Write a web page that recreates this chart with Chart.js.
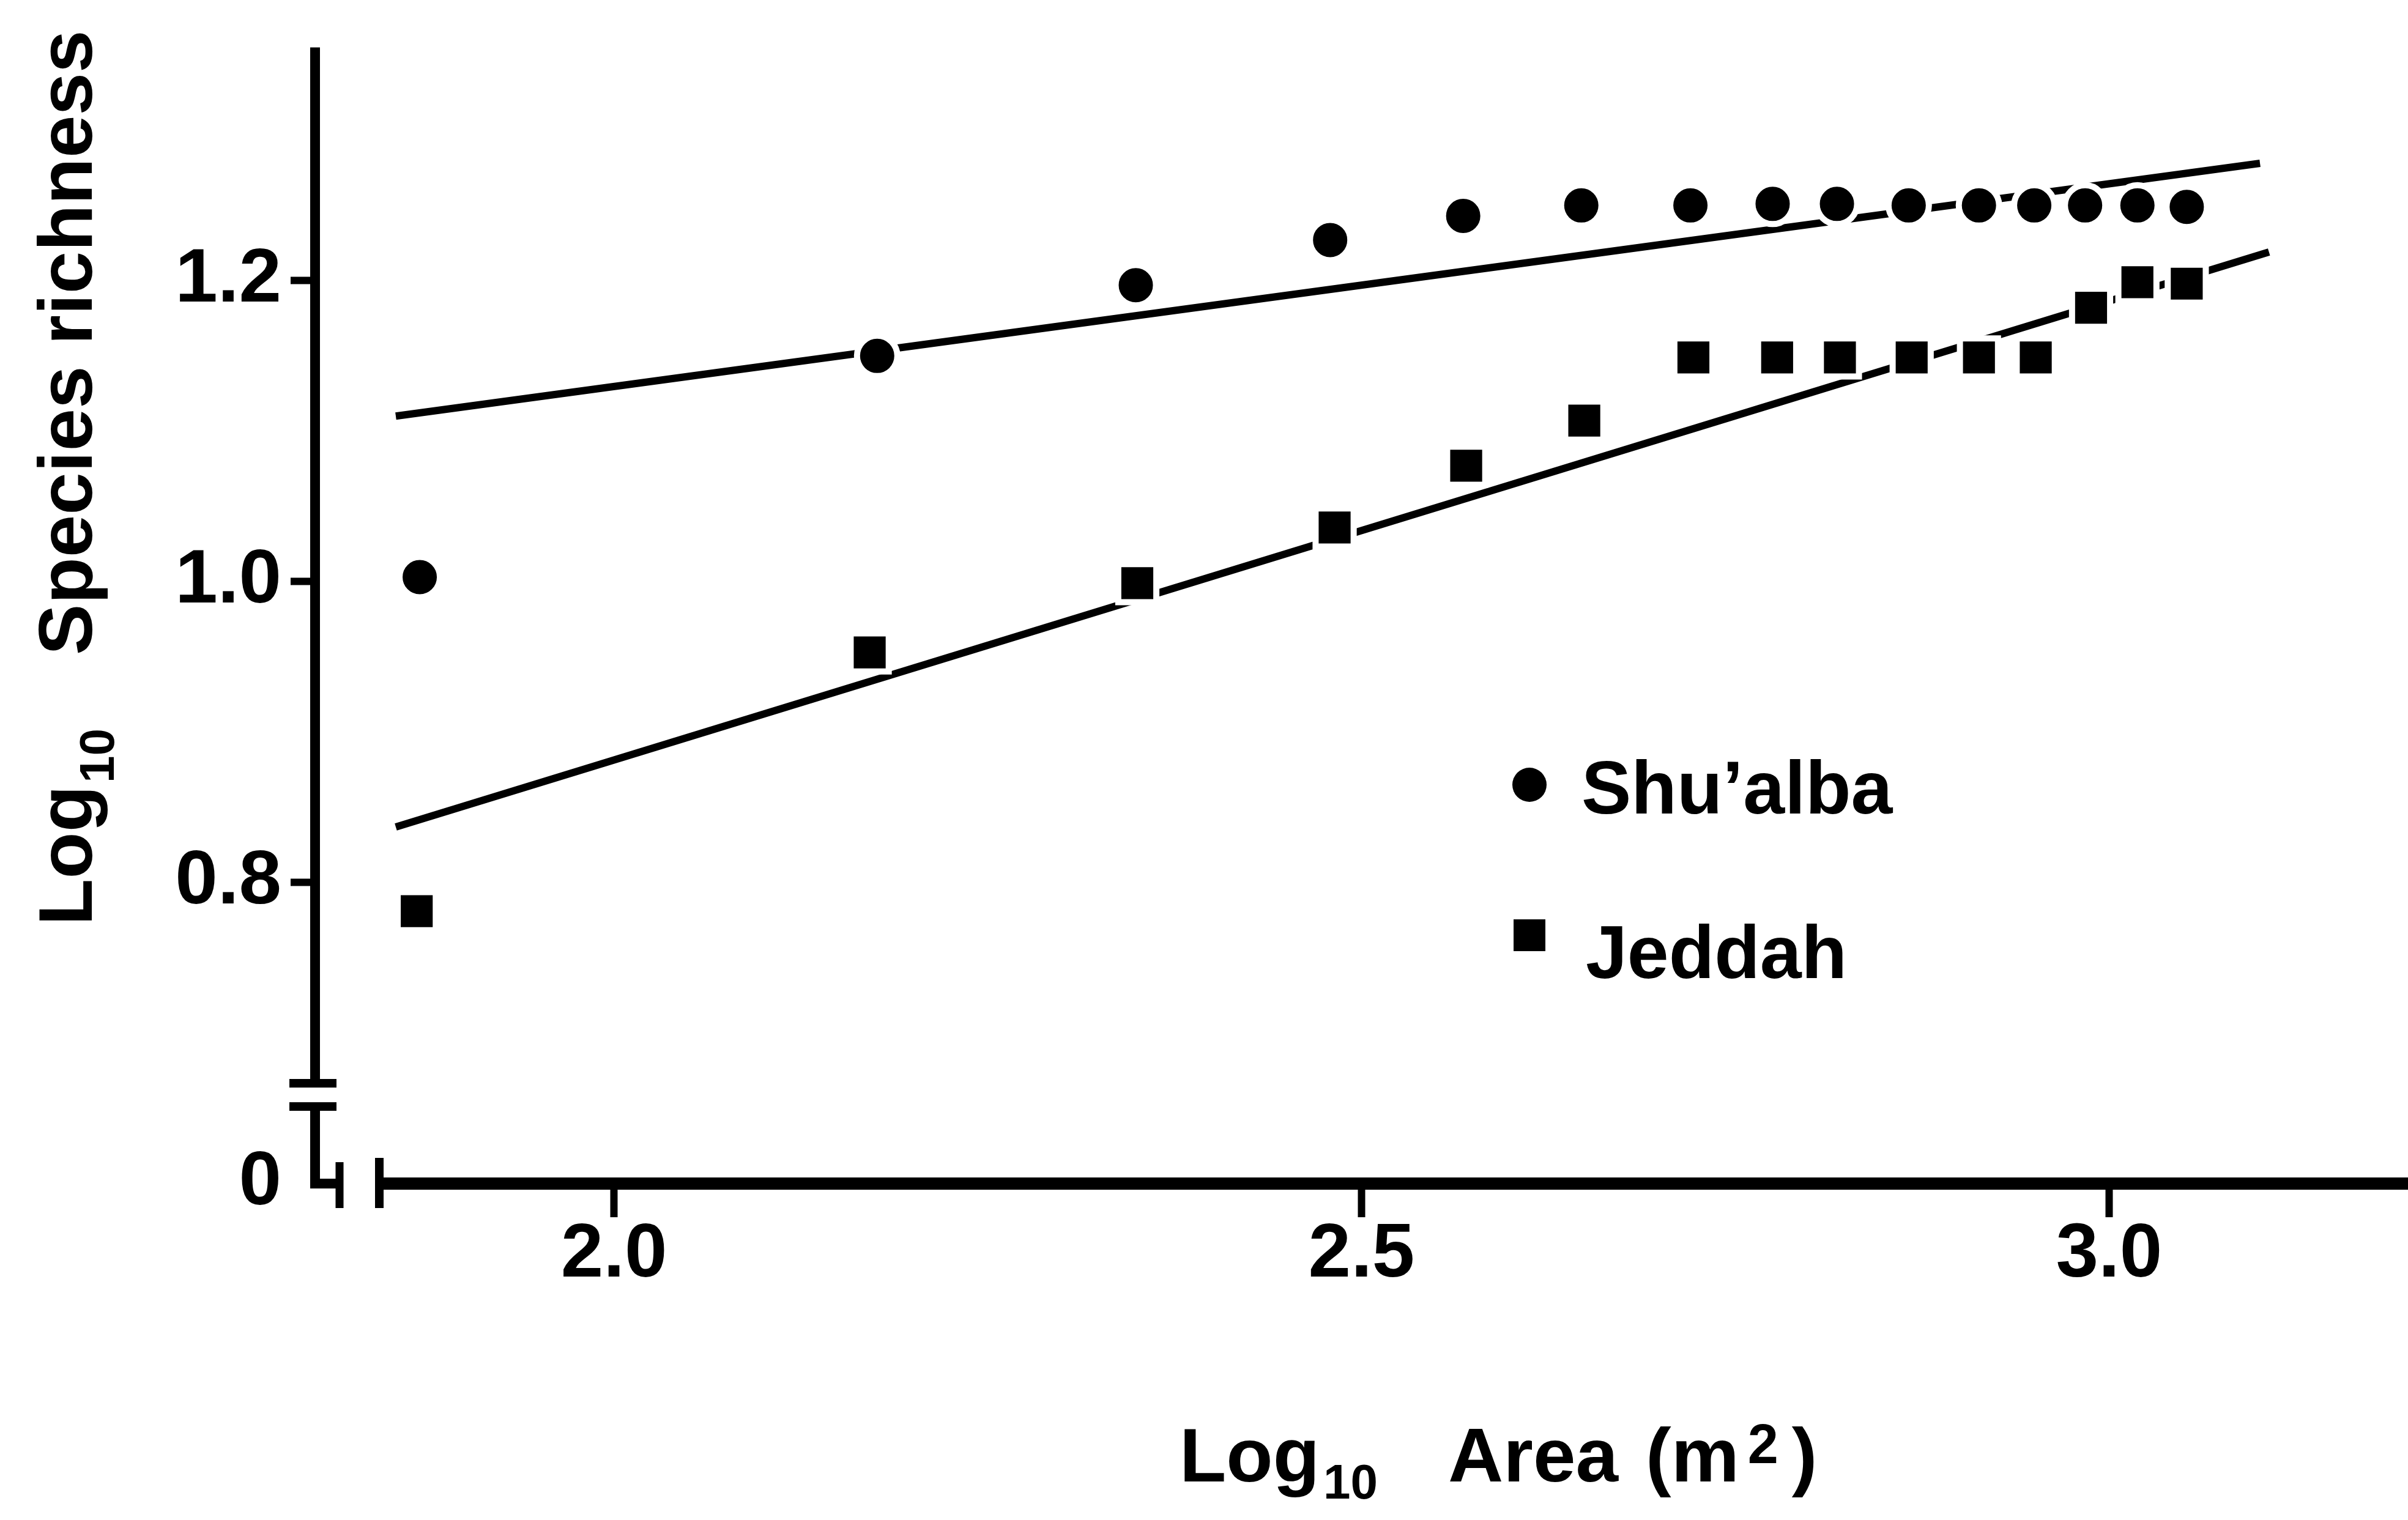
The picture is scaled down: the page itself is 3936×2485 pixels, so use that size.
<!DOCTYPE html>
<html>
<head>
<meta charset="utf-8">
<script src="https://cdn.jsdelivr.net/npm/chart.js@4.4.1/dist/chart.umd.min.js"></script>
<style>
  html, body { margin: 0; padding: 0; background: #fff; }
  canvas { display: block; }
</style>
</head>
<body>
<canvas id="chart" width="3936" height="2485"></canvas>
<script>
// log10 area (x) / log10 species richness (y)
const shuX = [1.870, 2.176, 2.349, 2.479, 2.568, 2.647, 2.720, 2.775, 2.818, 2.866, 2.913, 2.950, 2.984, 3.019, 3.052];
const shuY = [1.003, 1.150, 1.197, 1.227, 1.243, 1.250, 1.250, 1.251, 1.251, 1.250, 1.250, 1.250, 1.250, 1.250, 1.249];
const jedX = [1.868, 2.171, 2.350, 2.482, 2.570, 2.649, 2.722, 2.778, 2.820, 2.868, 2.913, 2.951, 2.988, 3.019, 3.052];
const jedY = [0.781, 0.953, 0.999, 1.036, 1.077, 1.107, 1.149, 1.149, 1.149, 1.149, 1.149, 1.149, 1.182, 1.199, 1.198];

// regression lines, end points
const shuFitX = [1.854, 3.101];
const shuFitY = [1.110, 1.278];
const jedFitX = [1.854, 3.107];
const jedFitY = [0.837, 1.219];

const xTicks = [2.0, 2.5, 3.0];
const yTicks = [0.6, 0.8, 1.0, 1.2];
const yTickLabels = ['0', '0.8', '1.0', '1.2'];
const seriesNames = ['Shu\u2019alba', 'Jeddah'];

const font = "'Liberation Sans', Arial, sans-serif";
Chart.defaults.font.family = font;
Chart.defaults.color = '#000';

function pts(xs, ys) {
  return xs.map((x, i) => ({ x: x, y: ys[i] }));
}

function line(ctx, x1, y1, x2, y2) {
  ctx.beginPath();
  ctx.moveTo(x1, y1);
  ctx.lineTo(x2, y2);
  ctx.stroke();
}

// axis lines with the breaks, axis titles and the key
const extras = {
  id: 'extras',
  afterDraw(chart) {
    const ctx = chart.ctx;
    const ca = chart.chartArea;
    const ax = ca.left;
    const base = chart.scales.y.getPixelForValue(yTicks[0]);
    ctx.save();
    ctx.strokeStyle = '#000';
    ctx.fillStyle = '#000';

    // y axis, broken near the bottom
    ctx.lineWidth = 16;
    line(ctx, ax, ca.top, ax, base - 164);
    line(ctx, ax, base - 126, ax, base + 8);
    ctx.lineWidth = 14;
    line(ctx, ax - 42, base - 164, ax + 35, base - 164);
    line(ctx, ax - 42, base - 126, ax + 35, base - 126);
    ctx.lineWidth = 16;
    line(ctx, ax - 8, base, ax + 40, base);
    ctx.lineWidth = 13;
    line(ctx, ax + 40, base - 35, ax + 40, base + 40);

    // x axis, starts after a gap
    ctx.lineWidth = 14;
    line(ctx, ax + 105, base - 42, ax + 105, base + 40);
    ctx.lineWidth = 20;
    line(ctx, ax + 105, base, ca.right, base);

    // x title
    const big = 'bold 125px ' + font;
    const small = 'bold 80px ' + font;
    ctx.textAlign = 'left';
    ctx.textBaseline = 'alphabetic';
    let x = 1928;
    const y = 2422;
    ctx.font = big; ctx.fillText('Log', x, y); x += ctx.measureText('Log').width + 6;
    ctx.font = small; ctx.fillText('10', x, y + 28); x += ctx.measureText('10').width + 115;
    ctx.font = big; ctx.fillText('Area', x, y); x += ctx.measureText('Area').width + 45;
    ctx.fillText('(m', x, y); x += ctx.measureText('(m').width + 14;
    ctx.font = 'bold 90px ' + font; ctx.fillText('2', x, y - 30); x += ctx.measureText('2').width + 22;
    ctx.font = big; ctx.fillText(')', x, y);

    // y title, rotated
    ctx.save();
    ctx.translate(150, 1513);
    ctx.rotate(-Math.PI / 2);
    let p = 0;
    ctx.font = big; ctx.fillText('Log', p, 0); p += ctx.measureText('Log').width + 4;
    ctx.font = small; ctx.fillText('10', p, 36); p += ctx.measureText('10').width + 120;
    ctx.font = big; ctx.fillText('Species richness', p, 0);
    ctx.restore();

    // key
    ctx.beginPath();
    ctx.arc(2500, 1283, 28, 0, Math.PI * 2);
    ctx.fill();
    ctx.fillRect(2474, 1503, 52, 52);
    ctx.font = 'bold 122px ' + font;
    ctx.fillText(seriesNames[0], 2585, 1330);
    ctx.fillText(seriesNames[1], 2592, 1599);
    ctx.restore();
  }
};

new Chart(document.getElementById('chart'), {
  type: 'scatter',
  data: {
    datasets: [
      {
        label: seriesNames[0] + ' fit',
        data: pts(shuFitX, shuFitY),
        showLine: true, borderColor: '#000', borderWidth: 12, pointRadius: 0, order: 2
      },
      {
        label: seriesNames[1] + ' fit',
        data: pts(jedFitX, jedFitY),
        showLine: true, borderColor: '#000', borderWidth: 12, pointRadius: 0, order: 2
      },
      {
        label: seriesNames[0],
        data: pts(shuX, shuY),
        pointStyle: 'circle', pointRadius: 33, pointBackgroundColor: '#000',
        pointBorderColor: '#fff', pointBorderWidth: 10, order: 1
      },
      {
        label: seriesNames[1],
        data: pts(jedX, jedY),
        pointStyle: 'rect', pointRadius: 44, pointBackgroundColor: '#000',
        pointBorderColor: '#fff', pointBorderWidth: 10, order: 1
      }
    ]
  },
  options: {
    responsive: false,
    animation: false,
    devicePixelRatio: 1,
    layout: { autoPadding: false, padding: { top: 75, left: 0, right: 0, bottom: 0 } },
    plugins: { legend: { display: false }, tooltip: { enabled: false } },
    scales: {
      x: {
        type: 'linear', min: 1.8, max: 3.2,
        afterBuildTicks: s => { s.ticks = xTicks.map(v => ({ value: v })); },
        afterFit: s => { s.height = 550; },
        border: { display: false },
        grid: { drawOnChartArea: false, tickLength: 55, tickWidth: 12, tickColor: '#000' },
        ticks: {
          padding: 0, color: '#000',
          font: { size: 125, weight: 'bold', lineHeight: 1 },
          callback: v => v.toFixed(1)
        }
      },
      y: {
        type: 'linear', min: 0.6, max: 1.355,
        afterBuildTicks: s => { s.ticks = yTicks.map(v => ({ value: v })); },
        afterFit: s => { s.width = 515; },
        border: { display: false },
        grid: {
          drawOnChartArea: false, tickLength: 40, tickWidth: 12,
          tickColor: c => (c.tick && c.tick.value === yTicks[0]) ? 'rgba(0,0,0,0)' : '#000'
        },
        ticks: {
          padding: 15, color: '#000',
          font: { size: 125, weight: 'bold', lineHeight: 1 },
          callback: (v, i) => yTickLabels[i]
        }
      }
    }
  },
  plugins: [extras]
});
</script>
</body>
</html>
